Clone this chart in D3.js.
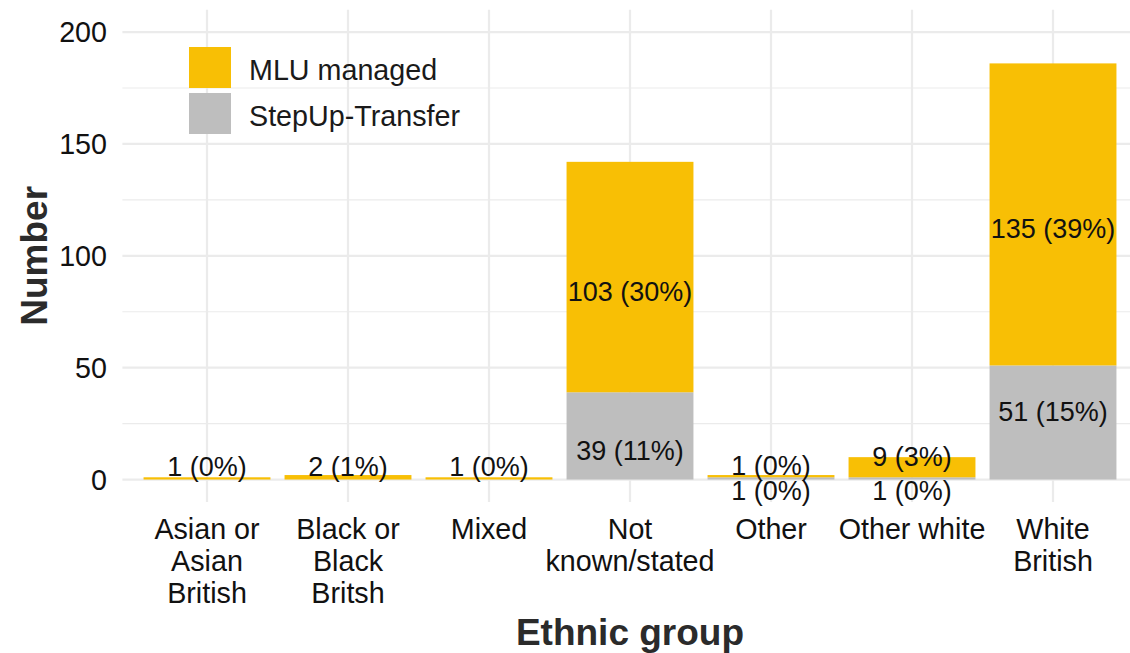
<!DOCTYPE html>
<html>
<head>
<meta charset="utf-8">
<script src="https://cdn.jsdelivr.net/npm/d3@7"></script>
<style>
  body { margin: 0; background: #fff; }
  svg { font-family: "Liberation Sans", Arial, sans-serif; display: block; }
</style>
</head>
<body>
<div id="chart"></div>
<script>
// Data
//=================================
var categories = ["Asian or\nAsian\nBritish", "Black or\nBlack\nBritsh", "Mixed", "Not\nknown/stated", "Other", "Other white", "White\nBritish"];
var mluManaged = [1, 2, 1, 103, 1, 9, 135];
var stepUpTransfer = [0, 0, 0, 39, 1, 1, 51];
// where each label sits (value units)
var mluLabelY = [5.8, 5.8, 5.8, 84.0, 6.5, 10.5, 112.4];
var stepUpLabelY = [0, 0, 0, 13.2, -4.7, -4.7, 30.3];
var yTicks = [0, 50, 100, 150, 200];
var yMinorTicks = [25, 75, 125, 175];
var seriesNames = ["MLU managed", "StepUp-Transfer"];
var seriesColors = ["#F8BF05", "#BEBEBE"];

var total = d3.sum(mluManaged) + d3.sum(stepUpTransfer);

var svgWidth = 1130;
var svgHeight = 653;

var panel = { left: 122.4, right: 1137.6, top: 9.7, bottom: 501.9 };

var svg = d3.select("#chart")
  .append("svg")
  .attr("width", svgWidth)
  .attr("height", svgHeight);

// scales
var x = d3.scaleBand()
  .domain(categories)
  .range([panel.left, panel.right])
  .paddingInner(0.1)
  .paddingOuter(0.15);

var y = d3.scaleLinear()
  .domain([-10, 210])
  .range([panel.bottom, panel.top]);

// gridlines
svg.append("g").selectAll("line")
  .data(yMinorTicks)
  .enter()
  .append("line")
  .attr("x1", panel.left).attr("x2", panel.right)
  .attr("y1", d => y(d)).attr("y2", d => y(d))
  .attr("stroke", "#EBEBEB")
  .attr("stroke-width", 1.1);

svg.append("g").selectAll("line")
  .data(yTicks)
  .enter()
  .append("line")
  .attr("x1", panel.left).attr("x2", panel.right)
  .attr("y1", d => y(d)).attr("y2", d => y(d))
  .attr("stroke", "#EBEBEB")
  .attr("stroke-width", 2.2);

svg.append("g").selectAll("line")
  .data(categories)
  .enter()
  .append("line")
  .attr("x1", d => x(d) + x.bandwidth() / 2).attr("x2", d => x(d) + x.bandwidth() / 2)
  .attr("y1", panel.top).attr("y2", panel.bottom)
  .attr("stroke", "#EBEBEB")
  .attr("stroke-width", 2.2);

// stacked bars: StepUp-Transfer at the bottom, MLU managed on top
var rows = categories.map(function(c, i) {
  return { cat: c, step: stepUpTransfer[i], mlu: mluManaged[i] };
});
var stacked = d3.stack().keys(["step", "mlu"])(rows);
var colorOf = { step: seriesColors[1], mlu: seriesColors[0] };

stacked.forEach(function(layer) {
  svg.append("g")
    .selectAll("rect")
    .data(layer.filter(d => d[1] - d[0] > 0))
    .enter()
    .append("rect")
    .attr("x", d => x(d.data.cat))
    .attr("width", x.bandwidth())
    .attr("y", d => y(d[1]))
    .attr("height", d => y(d[0]) - y(d[1]))
    .attr("fill", colorOf[layer.key]);
});

// labels
function labelText(n) {
  return n + " (" + Math.round(n / total * 100) + "%)";
}
var labels = [];
categories.forEach(function(c, i) {
  if (mluManaged[i] > 0) labels.push({ cat: c, n: mluManaged[i], ly: mluLabelY[i] });
  if (stepUpTransfer[i] > 0) labels.push({ cat: c, n: stepUpTransfer[i], ly: stepUpLabelY[i] });
});
svg.append("g").selectAll("text")
  .data(labels)
  .enter()
  .append("text")
  .attr("x", d => x(d.cat) + x.bandwidth() / 2)
  .attr("y", d => y(d.ly))
  .attr("dy", "0.36em")
  .attr("text-anchor", "middle")
  .attr("font-size", "27px")
  .attr("fill", "#111")
  .text(d => labelText(d.n));

// y axis tick labels
svg.append("g").selectAll("text")
  .data(yTicks)
  .enter()
  .append("text")
  .attr("x", 107)
  .attr("y", d => y(d))
  .attr("dy", "0.36em")
  .attr("text-anchor", "end")
  .attr("font-size", "28.7px")
  .attr("fill", "#111")
  .text(d => d);

// x axis tick labels (multi-line)
var xLabels = svg.append("g").selectAll("text")
  .data(categories)
  .enter()
  .append("text")
  .attr("text-anchor", "middle")
  .attr("font-size", "28.7px")
  .attr("fill", "#111");
xLabels.each(function(d) {
  var t = d3.select(this);
  d.split("\n").forEach(function(line, k) {
    t.append("tspan")
      .attr("x", x(d) + x.bandwidth() / 2)
      .attr("y", 539 + k * 32)
      .text(line);
  });
});

// axis titles
svg.append("text")
  .attr("x", (panel.left + panel.right) / 2)
  .attr("y", 645)
  .attr("text-anchor", "middle")
  .attr("font-size", "37px")
  .attr("font-weight", "bold")
  .attr("fill", "#2b2b2b")
  .text("Ethnic group");

svg.append("text")
  .attr("transform", `translate(47, ${(panel.top + panel.bottom) / 2}) rotate(-90)`)
  .attr("text-anchor", "middle")
  .attr("font-size", "37px")
  .attr("font-weight", "bold")
  .attr("fill", "#2b2b2b")
  .text("Number");

// legend
var legend = svg.append("g").attr("transform", "translate(189, 47)");
seriesNames.forEach(function(name, i) {
  legend.append("rect")
    .attr("x", 0)
    .attr("y", i * 46)
    .attr("width", 42)
    .attr("height", 41)
    .attr("fill", seriesColors[i]);
  legend.append("text")
    .attr("x", 60)
    .attr("y", i * 46 + 23)
    .attr("dy", "0.36em")
    .attr("font-size", "28.7px")
    .attr("fill", "#1a1a1a")
    .text(name);
});
</script>
</body>
</html>
